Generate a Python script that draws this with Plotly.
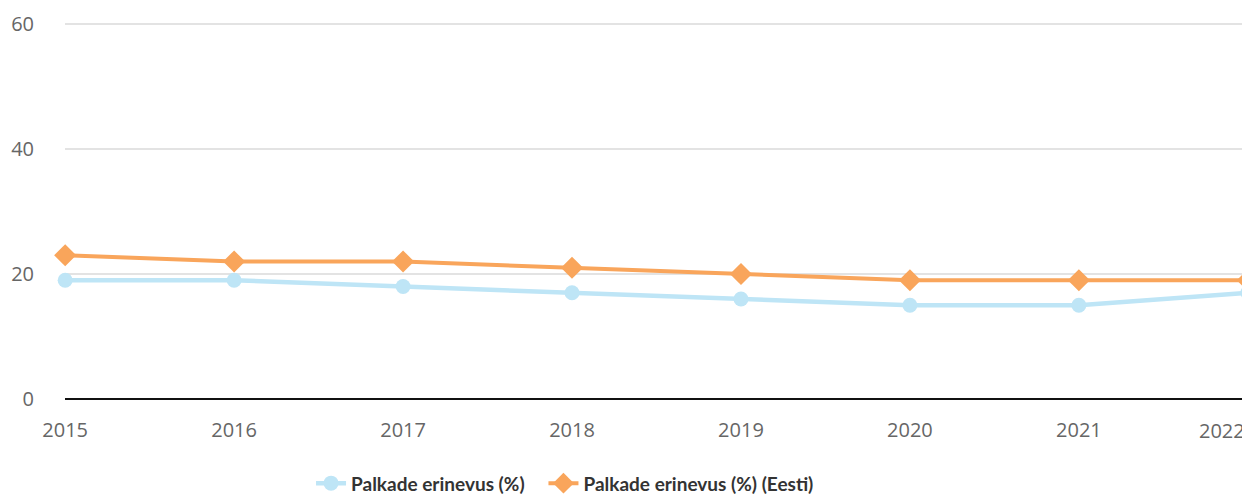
import plotly.graph_objects as go

years = [2015, 2016, 2017, 2018, 2019, 2020, 2021, 2022]
palk = [19, 19, 18, 17, 16, 15, 15, 17]
palk_eesti = [23, 22, 22, 21, 20, 19, 19, 19]
y_ticks = [0, 20, 40, 60]
names = ["Palkade erinevus (%)", "Palkade erinevus (%) (Eesti)"]

fig = go.Figure()
fig.add_trace(go.Scatter(
    x=years, y=palk, name=names[0] + "\u00a0\u00a0\u00a0", mode="lines+markers",
    line=dict(color="#BEE5F6", width=4.5),
    marker=dict(symbol="circle", size=15, color="#BEE5F6"),
    cliponaxis=False,
))
fig.add_trace(go.Scatter(
    x=years, y=palk_eesti, name=names[1], mode="lines+markers",
    line=dict(color="#F9A55B", width=4),
    marker=dict(symbol="diamond", size=17, color="#F9A55B"),
    cliponaxis=False,
))

tick_text = [str(y) for y in years[:-1]] + [""]
fig.add_annotation(x=years[-1], y=0, xref="x", yref="y", text=str(years[-1]),
                   showarrow=False, xanchor="right", yanchor="middle", yshift=-31,
                   xshift=-2, borderpad=0,
                   font=dict(family="Open Sans", size=20, color="#666666"))

fig.update_layout(
    width=1242, height=487,
    margin=dict(l=57, r=2, t=14, b=96, autoexpand=False),
    plot_bgcolor="white", paper_bgcolor="white",
    showlegend=True,
    legend=dict(orientation="h", xref="container", yref="container",
                x=0.4485, xanchor="center", y=0.024, yanchor="middle",
                font=dict(family="Lato", size=19, color="#333333", weight="bold"),
                tracegroupgap=0),
    xaxis=dict(range=[2014.999, 2022.001], tickvals=years, ticktext=tick_text,
               showgrid=False, zeroline=False, showline=False, automargin=False,
               tickfont=dict(family="Open Sans", size=20, color="#666666"),
               ticks="", ticklabelstandoff=17),
    yaxis=dict(range=[0, 60.32], tickvals=y_ticks, showgrid=True, gridcolor="#E3E3E3",
               gridwidth=1.5, zeroline=True, zerolinecolor="#111111", zerolinewidth=2,
               showline=False, ticks="", automargin=False,
               tickfont=dict(family="Open Sans", size=20, color="#666666"),
               ticklabelstandoff=30),
)
fig.write_html("out.html")
